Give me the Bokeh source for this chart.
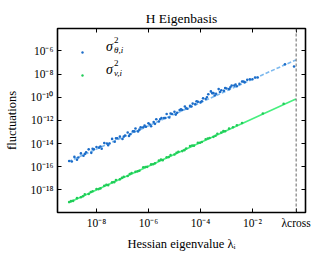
import numpy as np
from bokeh.plotting import figure
from bokeh.models import (Range1d, FixedTicker, CustomJSTickFormatter, LogAxis, Span,
                          Label, Legend, LegendItem, ColumnDataSource)
from bokeh.embed import file_html
from bokeh.resources import INLINE

# ---- data (log10 values) ----
blue_log_lambda = [-9.05, -8.95, -8.85, -8.7, -8.6, -8.5, -8.4, -8.3, -8.2, -8.1, -8.0, -7.9, -7.8, -7.7,
                   -7.6, -7.5, -7.4, -7.3, -7.2, -7.1, -7.0, -6.9, -6.8, -6.7, -6.6, -6.5, -6.4, -6.3,
                   -6.2, -6.1, -6.0, -5.9, -5.8, -5.7, -5.6, -5.5, -5.4, -5.3, -5.2, -5.1, -5.0, -4.9,
                   -4.8, -4.7, -4.6, -4.5, -4.4, -4.3, -4.2, -4.1, -4.0, -3.9, -3.8, -3.7, -3.6, -3.5,
                   -3.4, -3.3, -3.2, -3.1, -3.0, -2.9, -2.8, -2.7, -2.6, -2.5, -2.4, -2.3, -2.2, -2.1,
                   -2.0, -1.9, -1.8, -0.75, -0.4,
                   -8.75, -8.45, -8.15, -7.85, -7.55, -7.25, -6.95, -6.75, -6.55, -6.35, -6.15, -5.95,
                   -5.75, -5.55, -5.35, -5.15, -4.95, -4.75, -4.55, -4.35, -4.15, -3.95, -3.75, -3.55,
                   -3.45, -3.25, -3.05, -2.85, -2.65, -2.35]
blue_log_fluct = [-15.50, -15.55, -15.15, -15.20, -14.85, -15.05, -14.75, -14.50, -14.80, -14.50, -14.30,
                  -14.35, -14.45, -13.95, -14.00, -14.00, -13.60, -13.85, -13.55, -13.40, -13.60, -13.30,
                  -13.05, -13.20, -12.95, -12.70, -12.95, -12.60, -12.60, -12.55, -12.25, -12.50, -12.15,
                  -11.90, -12.10, -11.80, -11.80, -11.45, -11.75, -11.45, -11.25, -11.35, -11.10, -11.10,
                  -10.80, -11.00, -10.75, -10.55, -10.60, -10.40, -10.45, -10.10, -10.15, -9.75, -9.50,
                  -9.65, -9.70, -9.30, -9.40, -9.45, -9.25, -9.30, -9.00, -9.00, -9.05, -8.85, -8.65,
                  -8.70, -8.50, -8.45, -8.45, -8.30, -8.30, -7.15, -7.35,
                  -15.40, -14.90, -14.45, -14.25, -14.15, -13.55, -13.40, -13.35, -12.95, -12.80, -12.45,
                  -12.35, -12.30, -11.90, -11.80, -11.40, -11.50, -11.05, -10.95, -10.80, -10.35, -10.35,
                  -10.00, -9.65, -9.85, -9.55, -9.20, -9.15, -8.90, -8.65]

green_log_lambda = [-9.05, -8.9, -8.75, -8.6, -8.45, -8.3, -8.15, -8.0, -7.85, -7.7, -7.55, -7.4, -7.25,
                    -7.1, -6.95, -6.8, -6.65, -6.5, -6.35, -6.2, -6.05, -5.9, -5.75, -5.6, -5.45, -5.3,
                    -5.15, -5.0, -4.85, -4.7, -4.55, -4.4, -4.25, -4.1, -3.95, -3.8, -3.65, -3.5, -3.35,
                    -3.2, -3.05, -2.9, -2.75, -2.6, -2.4, -1.6, -0.8,
                    -8.98, -8.52, -8.22, -7.92, -7.62, -7.32, -7.02, -6.72, -6.42, -6.12, -5.82, -5.52,
                    -5.22, -4.92, -4.62, -4.32, -4.02, -3.72, -3.42, -3.12]
green_log_fluct = [-19.04, -18.95, -18.71, -18.63, -18.39, -18.35, -18.12, -17.92, -17.87, -17.64, -17.59,
                   -17.35, -17.14, -17.09, -16.86, -16.80, -16.55, -16.44, -16.35, -16.05, -16.01, -15.80,
                   -15.71, -15.47, -15.43, -15.19, -15.00, -14.95, -14.71, -14.65, -14.43, -14.22, -14.18,
                   -13.94, -13.86, -13.63, -13.52, -13.42, -13.15, -13.04, -12.94, -12.71, -12.59, -12.42,
                   -12.22, -11.41, -10.57,
                   -18.97, -18.55, -18.18, -17.93, -17.55, -17.33, -16.96, -16.63, -16.40, -16.02, -15.78,
                   -15.39, -15.17, -14.80, -14.57, -14.17, -13.93, -13.56, -13.33, -12.93]

fit_log_lambda = [-9.08, -0.33]
blue_fit_log = [-15.56, -6.78]
green_fit_log = [-19.10, -10.15]
lambda_cross_log = -0.32
x_tick_exps = [-8, -6, -4, -2]
y_tick_exps = [-18, -16, -14, -12, -10, -8, -6]

FONT = "Liberation Serif"
BLUE_PT = "#1c6dc9"
BLUE_LN = "#7db9ee"
GREEN_PT = "#20cc58"
GREEN_LN = "#46ef7e"

lam_cross = 10 ** lambda_cross_log

p = figure(width=313, height=253, x_axis_type="log", y_axis_type="log",
           x_range=Range1d(10 ** -9.5, 10 ** 0.04), y_range=Range1d(10 ** -19.95, 10 ** -4.07),
           output_backend="svg", toolbar_location=None,
           min_border_left=57, min_border_right=8, min_border_top=28, min_border_bottom=38)
p.background_fill_color = "white"
p.border_fill_color = "white"
p.grid.visible = False
p.outline_line_color = "black"
p.outline_line_width = 1.6

p.title.text = "H Eigenbasis"
p.title.align = "center"
p.title.text_font = FONT
p.title.text_font_size = "13.5px"
p.title.text_font_style = "normal"
p.title.text_color = "black"
p.title.standoff = 6

fmt = CustomJSTickFormatter(code="""
const sup = {"-": "\u207b", "0": "\u2070", "1": "\u00b9", "2": "\u00b2", "3": "\u00b3", "4": "\u2074",
             "5": "\u2075", "6": "\u2076", "7": "\u2077", "8": "\u2078", "9": "\u2079"};
const e = Math.log10(tick);
if (Math.abs(e - Math.round(e)) > 1e-6) { return "\u03bbcross"; }
return "10" + String(Math.round(e)).split("").map(c => sup[c]).join("");
""")

xticks = [10.0 ** e for e in x_tick_exps] + [lam_cross]
yticks = [10.0 ** e for e in y_tick_exps]


def style_axis(ax, ticks, show_labels=True):
    ax.ticker = FixedTicker(ticks=ticks, minor_ticks=[])
    ax.formatter = fmt
    ax.axis_line_color = None
    ax.major_tick_in = 4
    ax.major_tick_out = 0
    ax.minor_tick_in = 0
    ax.minor_tick_out = 0
    ax.major_tick_line_color = "black"
    ax.major_tick_line_width = 1
    ax.major_label_text_font = FONT
    if show_labels:
        ax.major_label_text_color = "black"
        ax.major_label_text_font_size = "11.5px"
        ax.major_label_standoff = 4
    else:
        ax.major_label_text_color = None
        ax.major_label_text_font_size = "1px"
        ax.major_label_standoff = 0


x_bottom = p.below[0]
y_left = p.left[0]
style_axis(x_bottom, xticks)
style_axis(y_left, yticks)
top_ax = LogAxis()
style_axis(top_ax, xticks, show_labels=False)
p.add_layout(top_ax, "above")
right_ax = LogAxis()
style_axis(right_ax, yticks, show_labels=False)
p.add_layout(right_ax, "right")

x_bottom.axis_label = "Hessian eigenvalue λᵢ"
y_left.axis_label = "fluctuations"
for ax in (x_bottom, y_left):
    ax.axis_label_text_font = FONT
    ax.axis_label_text_font_size = "12.5px"
    ax.axis_label_text_font_style = "normal"
    ax.axis_label_text_color = "black"
x_bottom.axis_label_standoff = 5
y_left.axis_label_standoff = 9

# fit lines
src_fit = ColumnDataSource(dict(x=10.0 ** np.array(fit_log_lambda),
                                yb=10.0 ** np.array(blue_fit_log),
                                yg=10.0 ** np.array(green_fit_log)))
p.line("x", "yg", source=src_fit, line_color=GREEN_LN, line_width=1.6)
p.line("x", "yb", source=src_fit, line_color=BLUE_LN, line_width=1.6, line_dash="4 2")

# scatter
src_b = ColumnDataSource(dict(x=10.0 ** np.array(blue_log_lambda), y=10.0 ** np.array(blue_log_fluct)))
src_g = ColumnDataSource(dict(x=10.0 ** np.array(green_log_lambda), y=10.0 ** np.array(green_log_fluct)))
rb = p.scatter("x", "y", source=src_b, size=2.6, color=BLUE_PT, line_width=0)
rg = p.scatter("x", "y", source=src_g, size=2.6, color=GREEN_PT, line_width=0)

# lambda_cross marker
p.add_layout(Span(location=lam_cross, dimension="height", line_color="#555555",
                  line_width=0.9, line_dash="3 2"))

# legend (markers only; math labels drawn separately)
leg = Legend(items=[LegendItem(label=" ", renderers=[rb]), LegendItem(label=" ", renderers=[rg])],
             location=(22, 127), padding=0, spacing=3, glyph_width=6, glyph_height=6,
             label_height=20, label_width=1, border_line_color=None, background_fill_alpha=0,
             label_text_font_size="10px")
p.add_layout(leg)


def lab(x, y, text, size, style="normal"):
    p.add_layout(Label(x=x, y=y, x_units="screen", y_units="screen", text=text,
                       text_font=FONT, text_font_size=size, text_font_style=style,
                       text_align="left", text_baseline="middle", text_color="black"))


lab(48.5, 166.5, "σ", "14px", style="italic")
lab(56.5, 172.5, "2", "9px")
lab(56.5, 162.5, "θ,i", "9px", style="italic")
lab(48.5, 143.5, "σ", "14px", style="italic")
lab(56.5, 149.5, "2", "9px")
lab(56.5, 139.5, "v,i", "9px", style="italic")

open("out.html", "w").write(file_html(p, INLINE))
